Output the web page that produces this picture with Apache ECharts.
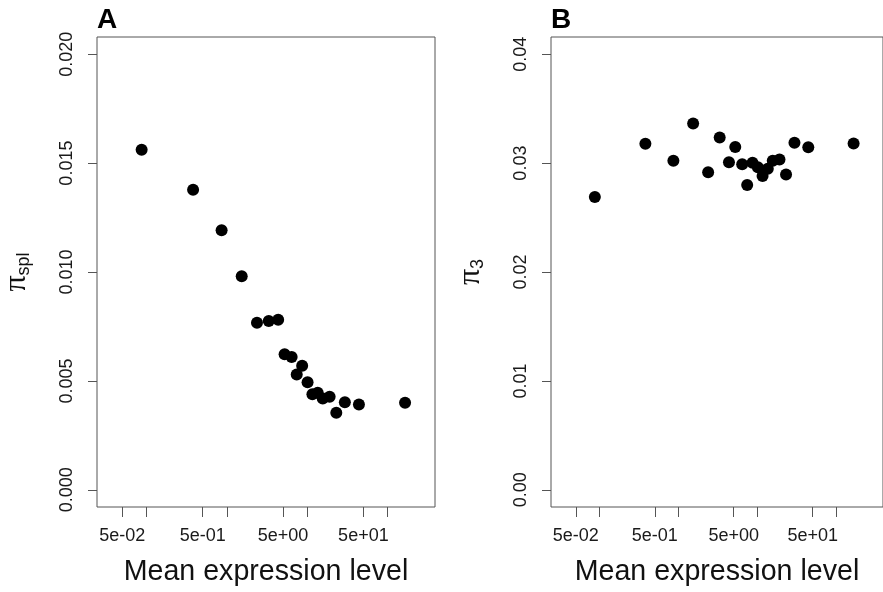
<!DOCTYPE html>
<html>
<head>
<meta charset="utf-8">
<title>pi vs mean expression</title>
<script src="https://cdn.jsdelivr.net/npm/echarts@6/dist/echarts.min.js"></script>
<style>
  html, body { margin: 0; padding: 0; background: #fff; }
  #main { width: 883px; height: 592px; }
</style>
</head>
<body>
<div id="main"></div>
<script>
// mean expression level (shared by both panels)
const meanExpr = [0.087, 0.38, 0.86, 1.53, 2.37, 3.32, 4.35, 5.23, 6.4, 7.4,
  8.65, 10.1, 11.6, 13.5, 15.6, 19.0, 23.0, 29.4, 44.0, 165];
// panel A: pi_spl
const piSpl = [0.01561, 0.01378, 0.01192, 0.00980, 0.00767, 0.00775, 0.00781, 0.00622, 0.00610, 0.00529,
  0.00569, 0.00494, 0.00439, 0.00445, 0.00419, 0.00427, 0.00354, 0.00402, 0.00392, 0.00400];
// panel B: pi_3
const pi3 = [0.02689, 0.03177, 0.03021, 0.03363, 0.02917, 0.03235, 0.03009, 0.03149, 0.02990, 0.02798,
  0.03003, 0.02963, 0.02881, 0.02948, 0.03021, 0.03033, 0.02896, 0.03186, 0.03146, 0.03180];

const xTicks = [0.05, 0.1, 0.5, 1, 5, 10, 50, 100];
const xLabelVals = [0.05, 0.5, 5, 50];
const xLabels = ["5e-02", "5e-01", "5e+00", "5e+01"];
const yTicksA = [0, 0.005, 0.01, 0.015, 0.02];
const yTicksB = [0, 0.01, 0.02, 0.03, 0.04];

const font = "Liberation Sans, Arial, sans-serif";
const ink = "#555";

function xAxisFor(gridIndex) {
  return {
    type: "value",
    gridIndex: gridIndex,
    min: -1.616,
    max: 2.59,
    axisLine: { show: false, onZero: false },
    splitLine: { show: false },
    axisTick: {
      show: true,
      length: 10,
      lineStyle: { color: ink },
      customValues: xTicks.map(Math.log10),
    },
    axisLabel: {
      margin: 20,
      fontSize: 18,
      fontFamily: font,
      color: "#1a1a1a",
      customValues: xLabelVals.map(Math.log10),
      formatter: (v) => {
        const i = xLabelVals.findIndex((t) => Math.abs(Math.log10(t) - v) < 1e-6);
        return i >= 0 ? xLabels[i] : "";
      },
    },
    name: "Mean expression level",
    nameLocation: "middle",
    nameGap: 51,
    nameTextStyle: { fontSize: 28.6, fontFamily: font, color: "#111" },
  };
}

function yAxisFor(gridIndex, ticks, min, max, digits, sub) {
  return {
    type: "value",
    gridIndex: gridIndex,
    min: min,
    max: max,
    axisLine: { show: false, onZero: false },
    splitLine: { show: false },
    axisTick: {
      show: true,
      length: 9,
      lineStyle: { color: ink },
      customValues: ticks,
    },
    axisLabel: {
      rotate: 90,
      margin: 21,
      fontSize: 18,
      fontFamily: font,
      color: "#1a1a1a",
      customValues: ticks,
      formatter: (v) => v.toFixed(digits),
    },
    name: "{pi|π}{sub|" + sub + "}",
    nameLocation: "middle",
    nameRotate: 90,
    nameGap: 64,
    nameTextStyle: {
      rich: {
        pi: { fontSize: 32, lineHeight: 32, fontFamily: "Liberation Serif, serif", color: "#111" },
        sub: { fontSize: 18, lineHeight: 18, fontFamily: font, color: "#111", verticalAlign: "bottom" },
      },
    },
  };
}

const chart = echarts.init(document.getElementById("main"));
chart.setOption({
  animation: false,
  backgroundColor: "#fff",
  title: [
    { text: "A", left: 97, top: 6, padding: 0, textStyle: { fontSize: 28, fontWeight: "bold", fontFamily: font, color: "#000" } },
    { text: "B", left: 551, top: 6, padding: 0, textStyle: { fontSize: 28, fontWeight: "bold", fontFamily: font, color: "#000" } },
  ],
  grid: [
    { left: 96, top: 37, width: 339, height: 472, show: true, borderColor: ink, borderWidth: 1, backgroundColor: "transparent" },
    { left: 551, top: 37, width: 339, height: 472, show: true, borderColor: ink, borderWidth: 1, backgroundColor: "transparent" },
  ],
  xAxis: [xAxisFor(0), xAxisFor(1)],
  yAxis: [
    yAxisFor(0, yTicksA, -0.000791, 0.020791, 3, "spl"),
    yAxisFor(1, yTicksB, -0.001582, 0.041582, 2, "3"),
  ],
  series: [
    {
      type: "scatter",
      xAxisIndex: 0,
      yAxisIndex: 0,
      symbolSize: 12,
      itemStyle: { color: "#000", opacity: 1 },
      data: meanExpr.map((x, i) => [Math.log10(x), piSpl[i]]),
    },
    {
      type: "scatter",
      xAxisIndex: 1,
      yAxisIndex: 1,
      symbolSize: 12,
      itemStyle: { color: "#000", opacity: 1 },
      data: meanExpr.map((x, i) => [Math.log10(x), pi3[i]]),
    },
  ],
});
</script>
</body>
</html>
